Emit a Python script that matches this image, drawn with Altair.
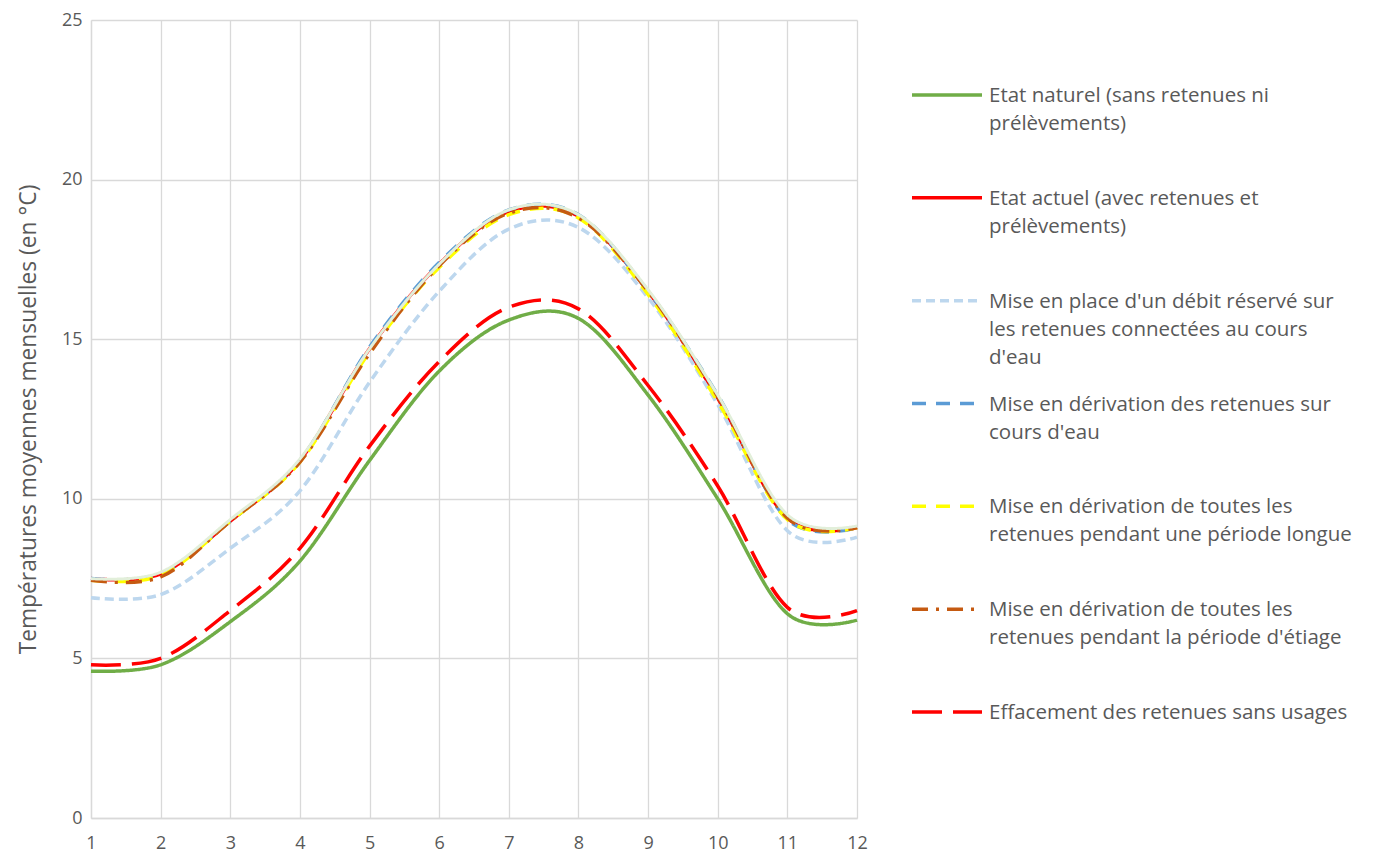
import altair as alt
import pandas as pd

# ---------------- data ----------------
months = [1, 2, 3, 4, 5, 6, 7, 8, 9, 10, 11, 12]

names = [
    "Etat naturel",
    "Etat actuel",
    "Debit reserve",
    "Derivation cours d'eau",
    "Derivation periode longue",
    "Derivation etiage",
    "Effacement",
]
labels = [
    "Etat naturel (sans retenues ni\nprélèvements)",
    "Etat  actuel (avec retenues et\nprélèvements)",
    "Mise en place d'un débit réservé sur\nles retenues connectées au cours\nd'eau",
    "Mise en dérivation des retenues sur\ncours d'eau",
    "Mise en dérivation de toutes les\nretenues pendant une période longue",
    "Mise en dérivation de toutes les\nretenues pendant la période d'étiage",
    "Effacement des retenues sans usages",
]

etat_naturel = [4.6, 4.8, 6.15, 8.05, 11.2, 14.0, 15.6, 15.65, 13.25, 10.0, 6.4, 6.2]
etat_actuel = [7.5, 7.65, 9.3, 11.2, 14.7, 17.35, 19.0, 18.85, 16.5, 13.15, 9.4, 9.1]
debit_reserve = [6.9, 7.0, 8.45, 10.25, 13.65, 16.5, 18.45, 18.5, 16.3, 12.95, 9.0, 8.8]
derivation_cours = [7.5, 7.65, 9.3, 11.2, 14.75, 17.4, 19.05, 18.9, 16.5, 13.25, 9.35, 9.1]
derivation_longue = [7.45, 7.6, 9.3, 11.15, 14.6, 17.25, 18.9, 18.8, 16.4, 13.05, 9.35, 9.1]
derivation_etiage = [7.45, 7.55, 9.3, 11.15, 14.55, 17.3, 18.95, 18.8, 16.5, 13.2, 9.4, 9.1]
effacement = [4.8, 5.0, 6.5, 8.45, 11.65, 14.3, 16.0, 15.95, 13.55, 10.4, 6.6, 6.5]
# unlabelled pale series drawn on top of the upper bundle
serie_pale = [7.5, 7.7, 9.35, 11.25, 14.7, 17.35, 19.05, 18.9, 16.55, 13.25, 9.5, 9.15]

y_ticks = [0, 5, 10, 15, 20, 25]

# ---------------- styles ----------------
colors = ["#70AD47", "#FF0000", "#BDD7EE", "#5B9BD5", "#FFFF00", "#C55A11", "#FF0000"]
dashes = [[1, 0], [1, 0], [9, 5], [14, 10], [14, 10], [16, 8, 3, 8], [30, 11]]
pale_color = "#E2EFDA"
FONT = "Open Sans"
GREY = "#595959"

series_values = [etat_naturel, etat_actuel, debit_reserve, derivation_cours,
                 derivation_longue, derivation_etiage, effacement]

rows = []
for n, vals in zip(names, series_values):
    for m, v in zip(months, vals):
        rows.append({"serie": n, "mois": m, "temp": v})
for m, v in zip(months, serie_pale):
    rows.append({"serie": "pale", "mois": m, "temp": v})
df = pd.DataFrame(rows)

x_scale = alt.Scale(domain=[1, 12], nice=False, zero=False)
y_scale = alt.Scale(domain=[0, 25], nice=False)

x_axis = alt.Axis(values=months, format="d", title=None, grid=True,
                  labelPadding=16, labelFlush=False)
y_axis = alt.Axis(values=y_ticks, title="Températures moyennes mensuelles (en °C)",
                  grid=True, labelPadding=9, titlePadding=21, labelFlush=False)

layers = []
order = names + ["pale"]
for i, n in enumerate(order):
    if n == "pale":
        col, dash, w = pale_color, [1, 0], 3
    else:
        col, dash, w = colors[i], dashes[i], 3.5
    first = i == 0
    layers.append(
        alt.Chart(df).transform_filter(alt.datum.serie == n)
        .mark_line(color=col, strokeDash=dash, strokeWidth=w, interpolate="cardinal")
        .encode(x=alt.X("mois:Q", scale=x_scale, axis=x_axis),
                y=alt.Y("temp:Q", scale=y_scale, axis=y_axis if first else None))
    )

leg_df = pd.DataFrame({"serie": names, "label": labels})
leg_y = alt.Y("serie:N",
              scale=alt.Scale(type="point", domain=names, range=[75, 692], padding=0),
              axis=None)

leg_rule = alt.Chart(leg_df).mark_rule(strokeWidth=3.5).encode(
    x=alt.value(821), x2=alt.value(891), y=leg_y,
    color=alt.Color("serie:N", scale=alt.Scale(domain=names, range=colors), legend=None),
    strokeDash=alt.StrokeDash("serie:N", scale=alt.Scale(domain=names, range=dashes), legend=None),
)
leg_text = alt.Chart(leg_df).mark_text(
    align="left", baseline="alphabetic", lineBreak="\n", fontSize=20.5, lineHeight=28,
    color=GREY, font=FONT, dy=7,
).encode(x=alt.value(898), y=leg_y, text="label:N")

chart = (
    alt.layer(*layers, leg_rule, leg_text)
    .resolve_scale(y="independent", color="independent", strokeDash="independent")
    .properties(width=766, height=798,
                autosize=alt.AutoSizeParams(type="none"),
                padding={"left": 83, "top": 12, "right": 500, "bottom": 34})
    .configure_view(stroke=None)
    .configure_axis(gridColor="#D9D9D9", gridWidth=1.3, domainColor="#D9D9D9",
                    domainWidth=1.3, ticks=False, labelColor=GREY, labelFontSize=18,
                    labelFont=FONT, titleColor=GREY, titleFontSize=22.8,
                    titleFont=FONT, titleFontWeight="normal")
)

chart.save("out.html", embed_options={"renderer": "svg", "actions": False})
